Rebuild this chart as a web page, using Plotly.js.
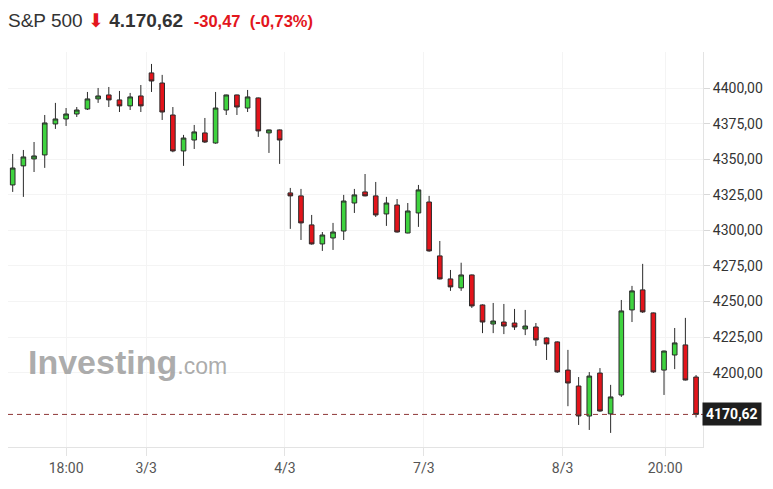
<!DOCTYPE html>
<html>
<head>
<meta charset="utf-8">
<script src="https://cdn.plot.ly/plotly-3.0.1.min.js"></script>
<style>html,body{margin:0;padding:0;background:#fff;}#chart{width:773px;height:489px;}</style>
</head>
<body>
<div id="chart"></div>
<script>
var openP  = [4332.0,4345.4,4350.3,4353.1,4374.9,4378.4,4381.9,4385.4,4392.5,4395.3,4391.8,4387.6,4394.6,4410.8,4403.7,4381.2,4355.9,4363.6,4368.6,4361.5,4384.7,4395.3,4386.1,4393.2,4368.6,4370.7,4326.4,4324.3,4303.9,4290.5,4294.7,4299.6,4319.3,4327.1,4324.3,4311.6,4317.9,4298.2,4312.3,4320.0,4282.1,4265.9,4259.6,4268.7,4247.6,4234.2,4235.6,4234.9,4230.7,4232.1,4224.4,4221.6,4201.8,4190.6,4169.5,4199.7,4171.0,4184.3,4244.1,4258.2,4242.0,4201.8,4212.4,4219.5,4196.9];
var highP  = [4353.8,4356.6,4362.2,4381.2,4389.7,4386.1,4386.8,4397.4,4400.2,4400.9,4398.1,4396.7,4402.3,4417.1,4409.4,4386.8,4367.2,4374.2,4379.1,4397.4,4395.5,4395.5,4398.8,4393.5,4370.9,4371.0,4329.9,4329.2,4310.9,4298.9,4305.3,4325.0,4329.2,4339.7,4334.1,4323.6,4322.1,4319.3,4332.0,4324.3,4292.6,4272.2,4277.3,4269.0,4248.0,4249.0,4248.3,4244.8,4244.1,4234.9,4224.8,4222.0,4216.0,4196.9,4200.4,4203.2,4191.4,4251.1,4261.0,4276.5,4242.3,4215.5,4231.4,4238.5,4198.3];
var lowP   = [4327.1,4323.6,4341.1,4344.0,4371.4,4373.5,4379.8,4384.7,4389.7,4386.8,4383.3,4384.7,4383.3,4397.4,4377.7,4355.0,4345.4,4357.3,4361.5,4361.0,4381.2,4381.2,4383.3,4365.8,4354.5,4346.8,4301.1,4293.3,4290.0,4285.6,4286.3,4293.3,4312.3,4324.0,4309.5,4303.2,4298.5,4298.0,4302.5,4285.0,4265.5,4257.5,4257.5,4245.5,4227.8,4227.8,4227.1,4230.0,4226.4,4218.8,4208.9,4199.8,4176.4,4163.2,4159.7,4172.5,4157.6,4182.9,4235.6,4242.0,4199.8,4184.3,4202.5,4194.5,4168.5];
var closeP = [4343.9,4351.7,4352.4,4375.6,4378.4,4381.9,4384.7,4392.5,4394.6,4391.8,4387.6,4393.9,4387.6,4405.1,4383.3,4355.9,4365.0,4369.3,4362.2,4386.1,4395.3,4386.8,4393.9,4370.0,4370.7,4363.6,4324.3,4305.3,4290.5,4296.8,4298.9,4320.7,4325.0,4324.3,4310.9,4319.3,4298.9,4313.7,4328.5,4285.6,4265.9,4260.3,4268.7,4246.9,4235.6,4236.3,4232.8,4232.1,4232.8,4223.0,4220.2,4200.5,4192.7,4169.5,4197.6,4173.0,4182.9,4243.4,4257.5,4242.7,4200.5,4215.2,4220.9,4194.8,4170.62];
var tickPos    = [5, 12.5, 25.5, 38.5, 51.5, 61.1];
var tickLabels = ["18:00", "3/3", "4/3", "7/3", "8/3", "20:00"];
var yTicks     = [4200, 4225, 4250, 4275, 4300, 4325, 4350, 4375, 4400];
var lastClose = 4170.62;

var xIdx = openP.map(function(_, i){ return i; });

var trace = {
  type: 'candlestick',
  x: xIdx, open: openP, high: highP, low: lowP, close: closeP,
  increasing: {line: {color: '#2b2b2b', width: 1}, fillcolor: '#3fd33f'},
  decreasing: {line: {color: '#2b2b2b', width: 1}, fillcolor: '#e3141b'},
  whiskerwidth: 0,
  hoverinfo: 'skip',
  showlegend: false
};

var layout = {
  width: 773, height: 489,
  margin: {l: 8, r: 70, t: 52, b: 42},
  paper_bgcolor: '#ffffff', plot_bgcolor: '#ffffff',
  separators: ',.',
  boxgap: 0.38,
  font: {family: 'Roboto, Arial, sans-serif', color: '#333'},
  title: {
    text: "S&P 500 <span style='color:#e3161d'>⬇</span> <b>4.170,62</b>  <span style='color:#e3161d;font-size:16.5px'><b>-30,47  (-0,73%)</b></span>",
    font: {family: 'Liberation Sans, Arial, sans-serif', size: 19, color: '#333'},
    x: 8/773, xref: 'container', xanchor: 'left',
    y: 1 - 20/489, yref: 'container', yanchor: 'middle'
  },
  xaxis: {
    range: [-0.44, 64.65],
    rangeslider: {visible: false},
    tickvals: tickPos, ticktext: tickLabels,
    showgrid: true, gridcolor: '#f4f4f4',
    showline: true, linecolor: '#e3e3e3', linewidth: 1,
    ticks: 'outside', ticklen: 8, tickcolor: '#e3e3e3',
    tickfont: {family: 'Roboto, sans-serif', size: 14, color: '#555'},
    zeroline: false, fixedrange: true
  },
  yaxis: {
    side: 'right',
    range: [4147.7, 4425.5],
    tickvals: yTicks, tickformat: '.2f',
    showgrid: true, gridcolor: '#f4f4f4',
    showline: true, linecolor: '#e3e3e3', linewidth: 1,
    ticks: 'outside', ticklen: 6, tickcolor: '#d8d8d8',
    tickfont: {family: 'Roboto, sans-serif', size: 14, color: '#333'},
    zeroline: false, fixedrange: true
  },
  shapes: [{
    type: 'line', xref: 'paper', yref: 'y', x0: 0, x1: 1, y0: lastClose, y1: lastClose,
    line: {color: '#8e3636', width: 1, dash: '5px,4px'}
  }],
  annotations: [
    {
      xref: 'paper', yref: 'paper', x: 0.0265, y: 0.215, xanchor: 'left', yanchor: 'middle',
      text: "<b>Investing</b><span style='font-size:23px'>.com</span>",
      showarrow: false,
      font: {family: 'Liberation Sans, Arial, sans-serif', size: 34, color: 'rgba(150,150,150,0.8)'}
    },
    {
      xref: 'paper', yref: 'y', x: 1, y: lastClose, xanchor: 'left', yanchor: 'middle', xshift: -1,
      text: '<b>' + lastClose.toFixed(2).replace('.', ',') + '</b>',
      showarrow: false, bgcolor: '#1e1e1e', borderpad: 3,
      font: {family: 'Roboto, sans-serif', size: 14, color: '#ffffff'}
    }
  ]
};

Plotly.newPlot('chart', [trace], layout, {displayModeBar: false, staticPlot: true});
</script>
</body>
</html>
